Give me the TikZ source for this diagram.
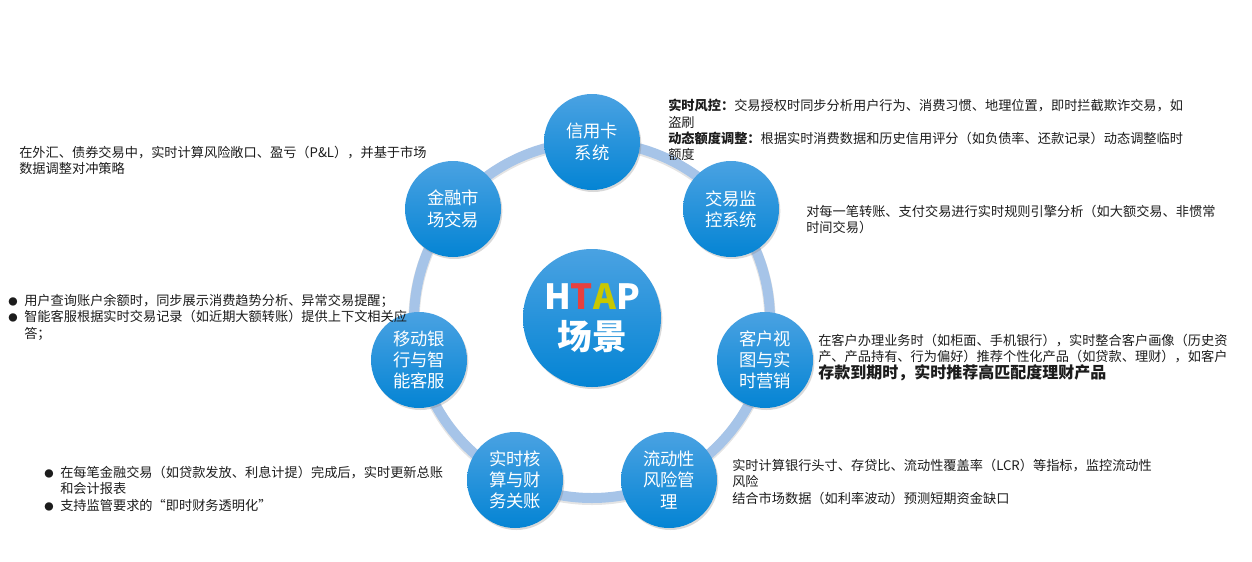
\documentclass[tikz,border=0pt]{standalone}
\usepackage{fontspec}
\setmainfont{Noto Sans CJK SC}
\usetikzlibrary{shadows}

\definecolor{systop}{RGB}{74,162,226}
\definecolor{sysbot}{RGB}{4,132,212}
\definecolor{ringblue}{RGB}{166,196,232}
\definecolor{htapred}{RGB}{232,64,62}
\definecolor{htapyellow}{RGB}{200,200,0}
\definecolor{notetext}{RGB}{28,28,28}

\begin{document}
\begin{tikzpicture}[x=0.75pt, y=-0.75pt,
    sys/.style={circle, minimum size=72pt, inner sep=0pt, top color=systop, bottom color=sysbot, text=white, align=center, font=\fontsize{13}{16}\selectfont, drop shadow={opacity=0.3, shadow xshift=1pt, shadow yshift=-1.5pt}},
    hub/.style={sys, minimum size=103.5pt, font=\fontsize{26}{30}\selectfont\bfseries},
    note/.style={anchor=north west, inner sep=0pt, align=left, text=notetext, font=\fontsize{9.9}{12.2}\selectfont},
    ring/.style={line width=7.5pt, draw=ringblue}
]
\useasboundingbox (0,0) rectangle (1252,561);

% Ring
\coordinate (ringc) at (592,320);
\draw[ring, draw=black!30, opacity=0.35, line width=8.5pt] ([yshift=-1pt]ringc) circle (133.5pt);
\draw[ring] (ringc) circle (133.5pt);

% Centre
\node[hub] (hub) at (592,318) {H\textcolor{htapred}{T}\textcolor{htapyellow}{A}P\\场景};

% Scenarios
\node[sys] (sys1) at (592,142) {信用卡\\系统};
\node[sys] (sys2) at (731,209) {交易监\\控系统};
\node[sys] (sys3) at (765,360) {客户视\\图与实\\时营销};
\node[sys] (sys4) at (669,480) {流动性\\风险管\\理};
\node[sys] (sys5) at (515,480) {实时核\\算与财\\务关账};
\node[sys] (sys6) at (419,360) {移动银\\行与智\\能客服};
\node[sys] (sys7) at (453,209) {金融市\\场交易};

% Notes
\node[note] (note1) at (668,99) {{\bfseries 实时风控：}交易授权时同步分析用户行为、消费习惯、地理位置，即时拦截欺诈交易，如\\
盗刷\\
{\bfseries 动态额度调整：}根据实时消费数据和历史信用评分（如负债率、还款记录）动态调整临时\\
额度};
\node[note] (note2) at (806,205) {对每一笔转账、支付交易进行实时规则引擎分析（如大额交易、非惯常\\
时间交易）};
\node[note] (note3) at (818,334) {在客户办理业务时（如柜面、手机银行），实时整合客户画像（历史资\\
产、产品持有、行为偏好）推荐个性化产品（如贷款、理财），如客户\\
{\fontsize{12}{14}\selectfont\bfseries 存款到期时，实时推荐高匹配度理财产品}};
\node[note] (note4) at (732,459) {实时计算银行头寸、存贷比、流动性覆盖率（LCR）等指标，监控流动性\\
风险\\
结合市场数据（如利率波动）预测短期资金缺口};
\node[note] (note5) at (44,466) {\begin{tabular}{@{}l@{\hspace{5pt}}l@{}}
{\fontsize{7}{7}\selectfont ●} & 在每笔金融交易（如贷款发放、利息计提）完成后，实时更新总账\\
 & 和会计报表\\
{\fontsize{7}{7}\selectfont ●} & 支持监管要求的“即时财务透明化”
\end{tabular}};
\node[note] (note6) at (8,294) {\begin{tabular}{@{}l@{\hspace{5pt}}l@{}}
{\fontsize{7}{7}\selectfont ●} & 用户查询账户余额时，同步展示消费趋势分析、异常交易提醒；\\
{\fontsize{7}{7}\selectfont ●} & 智能客服根据实时交易记录（如近期大额转账）提供上下文相关应\\
 & 答；
\end{tabular}};
\node[note] (note7) at (19,146) {在外汇、债券交易中，实时计算风险敞口、盈亏（P\&L），并基于市场\\
数据调整对冲策略};

\end{tikzpicture}
\end{document}
